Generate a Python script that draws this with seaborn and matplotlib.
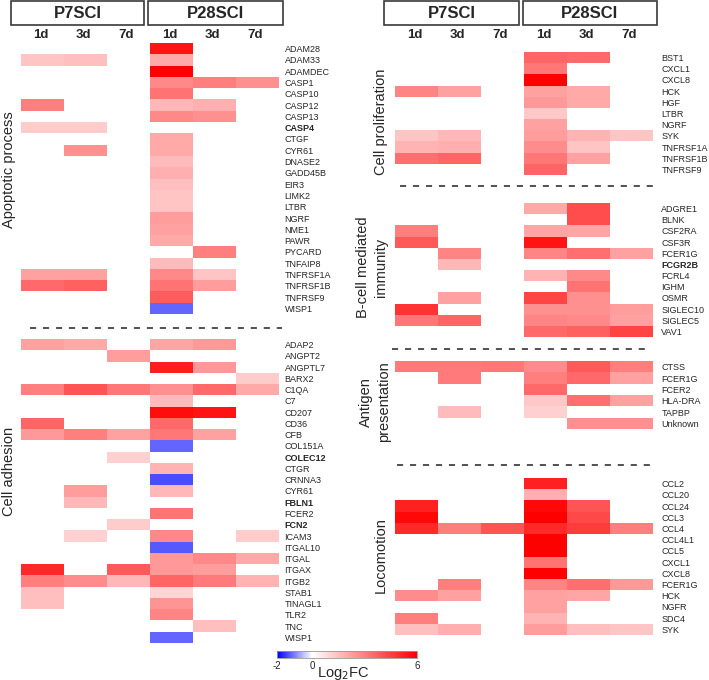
import numpy as np
import pandas as pd
import seaborn as sns
import matplotlib.pyplot as plt
from matplotlib.colors import LinearSegmentedColormap
from matplotlib.patches import Rectangle
from matplotlib.lines import Line2D

N = np.nan
conditions = ['P7SCI 1d', 'P7SCI 3d', 'P7SCI 7d', 'P28SCI 1d', 'P28SCI 3d', 'P28SCI 7d']
groups = ['P7SCI', 'P28SCI']
days = ['1d', '3d', '7d']

# --- Apoptotic process ---
apop_genes = ['ADAM28', 'ADAM33', 'ADAMDEC', 'CASP1', 'CASP10', 'CASP12', 'CASP13', 'CASP4',
              'CTGF', 'CYR61', 'DNASE2', 'GADD45B', 'EIR3', 'LIMK2', 'LTBR', 'NGRF', 'NME1',
              'PAWR', 'PYCARD', 'TNFAIP8', 'TNFRSF1A', 'TNFRSF1B', 'TNFRSF9', 'WISP1']
apop_vals = [
    [N, N, N, 5.5, N, N],
    [1.4, 1.5, N, 2.0, N, N],
    [N, N, N, 6.0, N, N],
    [N, N, N, 2.8, 3.0, 2.6],
    [N, N, N, 3.3, N, N],
    [3.0, N, N, 1.7, 1.9, N],
    [N, N, N, 2.8, 2.6, N],
    [1.2, 1.2, N, N, N, N],
    [N, N, N, 2.0, N, N],
    [N, 2.6, N, 2.0, N, N],
    [N, N, N, 1.6, N, N],
    [N, N, N, 1.9, N, N],
    [N, N, N, 1.5, N, N],
    [N, N, N, 1.4, N, N],
    [N, N, N, 1.4, N, N],
    [N, N, N, 2.3, N, N],
    [N, N, N, 2.2, N, N],
    [N, N, N, 2.0, N, N],
    [N, N, N, N, 3.0, N],
    [N, N, N, 1.6, N, N],
    [2.2, 2.2, N, 2.8, 1.4, N],
    [3.5, 3.7, N, 3.3, 2.3, N],
    [N, N, N, 3.8, N, N],
    [N, N, N, -1.2, N, N],
]

# --- Cell adhesion ---
adh_genes = ['ADAP2', 'ANGPT2', 'ANGPTL7', 'BARX2', 'C1QA', 'C7', 'CD207', 'CD36', 'CFB',
             'COL151A', 'COLEC12', 'CTGR', 'CRNNA3', 'CYR61', 'FBLN1', 'FCER2', 'FCN2',
             'ICAM3', 'ITGAL10', 'ITGAL', 'ITGAX', 'ITGB2', 'STAB1', 'TINAGL1', 'TLR2',
             'TNC', 'WISP1']
adh_vals = [
    [2.2, 2.0, N, 2.1, 2.4, N],
    [N, N, 2.3, N, N, N],
    [N, N, N, 5.3, 2.4, N],
    [N, N, N, N, N, 1.2],
    [3.0, 4.0, 3.2, 2.6, 3.5, 2.0],
    [N, N, N, 1.6, N, N],
    [N, N, N, 5.7, 5.5, N],
    [3.6, N, N, 3.5, N, N],
    [2.4, 3.0, 2.2, 3.2, 2.2, N],
    [N, N, N, -1.2, N, N],
    [N, N, 1.1, N, N, N],
    [N, N, N, 1.8, N, N],
    [N, N, N, -1.4, N, N],
    [N, 2.3, N, 1.7, N, N],
    [N, 1.7, N, N, N, N],
    [N, N, N, 3.3, N, N],
    [N, N, 1.2, N, N, N],
    [N, 1.1, N, 2.8, N, 1.2],
    [N, N, N, -1.3, N, N],
    [N, N, N, 2.4, 2.8, 2.0],
    [5.0, N, 3.9, 2.4, 2.3, N],
    [3.0, 2.7, 1.7, 3.6, 3.1, 1.8],
    [1.5, N, N, 1.0, N, N],
    [1.5, N, N, 2.5, N, N],
    [N, N, N, 2.9, N, N],
    [N, N, N, N, 1.5, N],
    [N, N, N, -1.2, N, N],
]

# --- Cell proliferation ---
prol_genes = ['BST1', 'CXCL1', 'CXCL8', 'HCK', 'HGF', 'LTBR', 'NGRF', 'SYK',
              'TNFRSF1A', 'TNFRSF1B', 'TNFRSF9']
prol_vals = [
    [N, N, N, 3.6, 3.5, N],
    [N, N, N, 3.2, N, N],
    [N, N, N, 6.0, N, N],
    [2.9, 2.2, N, 2.2, 2.0, N],
    [N, N, N, 2.4, 2.0, N],
    [N, N, N, 1.3, N, N],
    [N, N, N, 2.2, N, N],
    [1.4, 1.7, N, 2.3, 1.8, 1.4],
    [1.8, 1.9, N, 2.7, 1.4, N],
    [3.4, 3.6, N, 3.2, 2.2, N],
    [N, N, N, 3.6, N, N],
]

# --- B-cell mediated immunity ---
bcell_genes = ['ADGRE1', 'BLNK', 'CSF2RA', 'CSF3R', 'FCER1G', 'FCGR2B', 'FCRL4', 'IGHM',
               'OSMR', 'SIGLEC10', 'SIGLEC5', 'VAV1']
bcell_vals = [
    [N, N, N, 2.0, 4.2, N],
    [N, N, N, N, 4.2, N],
    [3.0, N, N, 2.1, 2.1, N],
    [3.9, N, N, 5.5, N, N],
    [N, 2.9, N, 2.9, 3.4, 2.2],
    [N, 1.7, N, N, N, N],
    [N, N, N, 1.8, 2.8, N],
    [N, N, N, N, 3.3, N],
    [N, 2.2, N, 4.4, 2.6, N],
    [4.8, N, N, 2.6, 2.6, 2.3],
    [3.2, 3.6, N, 2.9, 2.8, 2.2],
    [N, N, N, 3.5, 3.7, 4.4],
]

# --- Antigen presentation ---
antig_genes = ['CTSS', 'FCER1G', 'FCER2', 'HLA-DRA', 'TAPBP', 'Unknown']
antig_vals = [
    [3.1, 3.1, 3.2, 2.7, 3.9, 3.0],
    [N, 3.1, N, 3.0, 3.5, 2.2],
    [N, N, N, 3.5, N, N],
    [N, N, N, 1.3, 3.4, 2.2],
    [N, 1.6, N, 1.1, N, N],
    [N, N, N, N, 2.6, 2.6],
]

# --- Locomotion ---
loco_genes = ['CCL2', 'CCL20', 'CCL24', 'CCL3', 'CCL4', 'CCL4L1', 'CCL5', 'CXCL1', 'CXCL8',
              'FCER1G', 'HCK', 'NGFR', 'SDC4', 'SYK']
loco_vals = [
    [N, N, N, 5.2, N, N],
    [N, N, N, 1.9, N, N],
    [5.2, N, N, 5.8, 4.0, N],
    [5.8, N, N, 6.0, 4.3, N],
    [5.0, 3.0, 4.0, 5.0, 4.6, 3.0],
    [N, N, N, 6.0, N, N],
    [N, N, N, 6.0, N, N],
    [N, N, N, 3.3, N, N],
    [N, N, N, 6.0, N, N],
    [N, 3.0, N, 2.9, 3.4, 2.4],
    [2.7, 2.2, N, 2.2, 2.1, N],
    [N, N, N, 2.2, N, N],
    [3.0, N, N, 1.8, N, N],
    [1.5, 1.9, N, 2.3, 1.5, 1.4],
]

bold_genes = ['CASP4', 'COLEC12', 'FBLN1', 'FCN2', 'FCGR2B']

W, H = 709, 680
sns.set_theme(style='white')
plt.rcParams['font.family'] = ['Liberation Sans', 'DejaVu Sans']
plt.rcParams['axes.unicode_minus'] = False

fig = plt.figure(figsize=(W / 100, H / 100), dpi=100)


def px_axes(x0, y0, x1, y1):
    return fig.add_axes([x0 / W, 1 - y1 / H, (x1 - x0) / W, (y1 - y0) / H])


cmap = LinearSegmentedColormap.from_list(
    'fc', [(0, '#0000ff'), (0.25, '#ffffff'), (1, '#ff0000')])


def draw_block(x0, y0, x1, y1, genes, vals, pad=4):
    ax = px_axes(x0, y0, x1, y1)
    df = pd.DataFrame(vals, index=genes, columns=conditions)
    sns.heatmap(df, ax=ax, cmap=cmap, vmin=-2, vmax=6, cbar=False,
                linewidths=0, xticklabels=False, yticklabels=True)
    ax.yaxis.tick_right()
    ax.tick_params(axis='y', length=0, pad=pad, labelsize=6.5, labelrotation=0)
    for t in ax.get_yticklabels():
        if t.get_text() in bold_genes:
            t.set_fontweight('bold')
    ax.set_xlabel('')
    ax.set_ylabel('')
    return ax


# left column
draw_block(21, 43, 279, 314, apop_genes, apop_vals)
ax_adh = draw_block(21, 339, 279, 643, adh_genes, adh_vals)
# right column
draw_block(395, 52, 653, 175, prol_genes, prol_vals, pad=6)
draw_block(395, 203, 653, 337, bcell_genes, bcell_vals, pad=6)
draw_block(395, 361, 653, 429, antig_genes, antig_vals, pad=6)
draw_block(395, 478, 653, 635, loco_genes, loco_vals, pad=6)


def ftext(x, y, s, **kw):
    fig.text(x / W, 1 - y / H, s, **kw)


# header boxes + day labels
for (bx0, bx1), g in zip([(11, 144), (148, 283), (384, 519), (523, 657)], groups * 2):
    fig.patches.append(Rectangle((bx0 / W, 1 - 25 / H), (bx1 - bx0) / W, 24 / H,
                                 transform=fig.transFigure, fill=False,
                                 edgecolor='#3a3a3a', linewidth=1.2))
    ftext((bx0 + bx1) / 2, 13, g, ha='center', va='center', fontsize=12, fontweight='bold')

for x0 in [21, 395]:
    cw = (279 - 21) / 6
    for i in range(6):
        ftext(x0 + (i + 0.5) * cw - 2, 35, days[i % 3], ha='center', va='center',
              fontsize=9.5, fontweight='bold')

# section titles
ftext(9, 170, 'Apoptotic process', rotation=90, ha='center', va='center', fontsize=10.5)
ftext(9, 471, 'Cell adhesion', rotation=90, ha='center', va='center', fontsize=10.5)
ftext(381, 122, 'Cell proliferation', rotation=90, ha='center', va='center', fontsize=10.5)
ftext(372, 267, 'B-cell mediated\nimmunity', rotation=90, ha='center', va='center',
      fontsize=10.5, linespacing=1.3)
ftext(375, 402, 'Antigen\npresentation', rotation=90, ha='center', va='center',
      fontsize=10.5, linespacing=1.3)
ftext(381, 555, 'Locomotion', rotation=90, ha='center', va='center', fontsize=10.5)

# dashed separators
for xa, xb, y in [(30, 282, 328), (400, 655, 186), (392, 645, 349), (397, 652, 465)]:
    fig.lines.append(Line2D([xa / W, xb / W], [1 - y / H, 1 - y / H], transform=fig.transFigure,
                            color='#222222', linewidth=1.1, linestyle=(0, (4, 4.5))))

# colour bar
cax = px_axes(277, 651, 417, 658)
cb = fig.colorbar(ax_adh.collections[0], cax=cax, orientation='horizontal', ticks=[-2, 0, 6])
cb.outline.set_edgecolor('#999999')
cb.outline.set_linewidth(0.6)
cax.tick_params(length=0, pad=2, labelsize=7)
ftext(343, 673, 'Log$_2$FC', ha='center', va='center', fontsize=10.5)

fig.savefig('out.png', dpi=100)
